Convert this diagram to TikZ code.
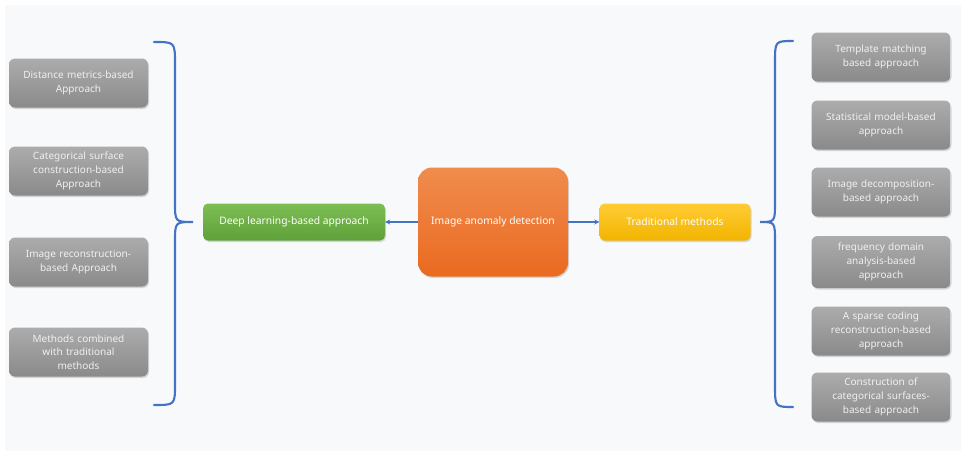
\documentclass[tikz,border=0pt]{standalone}
\usepackage{fontspec}
\setmainfont{Noto Sans}
\usepackage{tikz}
\usetikzlibrary{arrows.meta,shadows}

\definecolor{bgpaper}{RGB}{248,249,251}
\definecolor{bracecol}{RGB}{68,114,196}
\definecolor{greytop}{RGB}{172,172,172}
\definecolor{greybot}{RGB}{138,138,138}
\definecolor{orangetop}{RGB}{240,140,78}
\definecolor{orangebot}{RGB}{234,106,32}
\definecolor{greentop}{RGB}{124,190,84}
\definecolor{greenbot}{RGB}{96,160,58}
\definecolor{yellowtop}{RGB}{255,204,52}
\definecolor{yellowbot}{RGB}{242,180,0}
\definecolor{paletext}{RGB}{240,240,240}

\tikzset{
  method/.style={rounded corners=6pt, minimum width=139pt, minimum height=49pt,
    text width=132pt, align=center, text=paletext, font=\fontsize{10}{13.7}\selectfont,
    top color=greytop, bottom color=greybot,
    drop shadow={shadow xshift=1pt, shadow yshift=-1.5pt, opacity=0.3}},
  branch/.style={rounded corners=5pt, minimum height=37pt, text=white,
    font=\fontsize{10.3}{12}\selectfont,
    drop shadow={shadow xshift=1pt, shadow yshift=-1.5pt, opacity=0.3}},
  brace/.style={draw=bracecol, line width=2.1pt, line cap=round},
  link/.style={draw=bracecol, line width=1.3pt, -{Stealth[length=5pt,width=5pt]}}
}

\begin{document}
\begin{tikzpicture}[x=1pt,y=-1pt]
  \fill[white] (0,0) rectangle (966,456);
  \fill[bgpaper] (5,5) rectangle (961,451);
  \useasboundingbox (0,0) rectangle (966,456);

  \draw (493,222) node[branch, rounded corners=14pt, minimum width=150pt, minimum height=109pt,
        top color=orangetop, bottom color=orangebot] (root) {Image anomaly detection};
  \draw (294,222) node[branch, minimum width=182pt, top color=greentop, bottom color=greenbot] (deep) {Deep learning-based approach};
  \draw (675,222) node[branch, minimum width=151pt, top color=yellowtop, bottom color=yellowbot] (trad) {Traditional methods};

  \draw (78.5,83) node[method] (dist) {Distance metrics-based\\Approach};
  \draw (78.5,171) node[method] (cats) {Categorical surface\\construction-based\\Approach};
  \draw (78.5,262) node[method] (recon) {Image reconstruction-\\based Approach};
  \draw (78.5,352) node[method] (comb) {Methods combined\\with traditional\\methods};

  \draw (881,57) node[method] (templ) {Template matching\\based approach};
  \draw (881,125) node[method] (stat) {Statistical model-based\\approach};
  \draw (881,192) node[method] (decomp) {Image decomposition-\\based approach};
  \draw (881,262) node[method, minimum height=52pt] (freq) {frequency domain\\analysis-based\\approach};
  \draw (881,331) node[method] (sparse) {A sparse coding\\reconstruction-based\\approach};
  \draw (881,397) node[method] (csurf) {Construction of\\categorical surfaces-\\based approach};

  \path[link] (root) -- (deep);
  \path[link] (root) -- (trad);

  \draw[brace] (154,42) .. controls (175,42) .. (175,64) -- (175,202)
     .. controls (175,222) .. (193,222) .. controls (175,222) .. (175,242)
     -- (175,384) .. controls (175,405) .. (154,405);
  \draw[brace] (793,41) .. controls (775,41) .. (775,63) -- (775,202)
     .. controls (775,222) .. (760,222) .. controls (775,222) .. (775,242)
     -- (775,385) .. controls (775,407) .. (793,407);
\end{tikzpicture}
\end{document}
